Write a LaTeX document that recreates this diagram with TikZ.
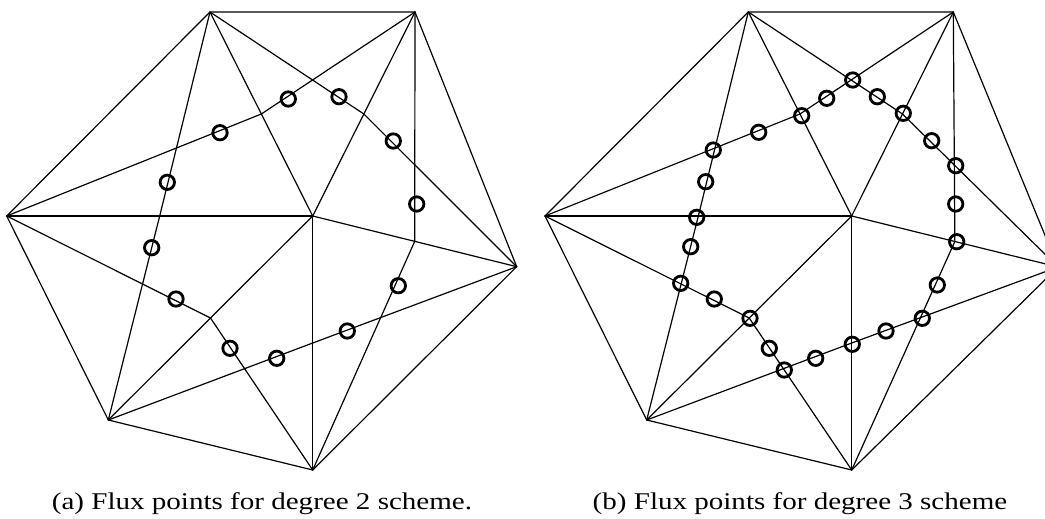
\documentclass[tikz,border=0pt]{standalone}
\usepackage{graphicx}
\usepackage{fontspec}
\setmainfont{Liberation Serif}
\usetikzlibrary{calc}
\tikzset{
  meshline/.style={line width=1.2pt, line cap=round, line join=round},
  fluxpt/.style={line width=2.8pt},
  captiontext/.style={font=\fontsize{24}{28}\selectfont, anchor=base, inner sep=0pt}
}
\newcommand{\widecap}[1]{\scalebox{1.21}[1]{#1}}
\begin{document}
\begin{tikzpicture}[x=1pt,y=-1pt]
\useasboundingbox (0,0) rectangle (1045,519);
\clip (0,0) rectangle (1045,519);
% left panel vertices
\coordinate (aT)  at (210,12);
\coordinate (aTR) at (415,12);
\coordinate (aR)  at (516.7,266.7);
\coordinate (aB)  at (312.7,470);
\coordinate (aBL) at (108.3,420);
\coordinate (aL)  at (6.7,216);
\coordinate (aC)  at (312.7,216);
% right panel vertices
\coordinate (bT)  at (748.3,12);
\coordinate (bTR) at (953.3,12);
\coordinate (bR)  at (1058,267);
\coordinate (bB)  at (851.7,470);
\coordinate (bBL) at (646.7,420);
\coordinate (bL)  at (545,216);
\coordinate (bC)  at (851.7,216);
\foreach \p in {a,b}{
  % outer edges
  \draw[meshline] (\p T) -- (\p TR) -- (\p R) -- (\p B) -- (\p BL) -- (\p L) -- cycle;
  % spokes
  \foreach \v in {T,TR,R,B,BL,L}{
    \draw[meshline] (\p C) -- (\p\v);
  }
  % medians from outer vertices
  \foreach \x/\y in {T/TR,TR/R,R/B,B/BL,BL/L,L/T}{
    \draw[meshline] (\p\x) -- ($(\p C)!0.5!(\p\y)$);
    \draw[meshline] (\p\y) -- ($(\p C)!0.5!(\p\x)$);
  }
}
% flux points, degree 2
\foreach \cx/\cy in {288.3/99, 339/96.7, 393.3/141, 416.7/204, 398.3/285.7, 347.3/331,
  276.7/358.3, 230/348.3, 176/299, 151.7/247.7, 167.3/182.3, 220/132.7}{
  \draw[fluxpt] (\cx,\cy) circle[radius=7.2];
}
% flux points, degree 3
\foreach \cx/\cy in {852.7/80, 826.7/98.3, 801.7/115.7, 758.7/132.3, 713.3/150,
  705.7/181.7, 696.7/217.3, 690.7/246.7, 680.7/283.3, 714.3/299, 750/318.3,
  769.3/348.3, 784.3/370, 815.7/358.3, 852.3/344.3, 886/331, 922.3/318.3,
  937.3/285, 956.7/241.7, 955.7/204, 955.7/165.7, 931.7/140.7, 903.3/113.3, 877.3/96.7}{
  \draw[fluxpt] (\cx,\cy) circle[radius=7.2];
}
\node[captiontext] (capa) at (262,509) {\widecap{(a) Flux points for degree 2 scheme.}};
\node[captiontext] (capb) at (800,509) {\widecap{(b) Flux points for degree 3 scheme}};
\end{tikzpicture}
\end{document}
